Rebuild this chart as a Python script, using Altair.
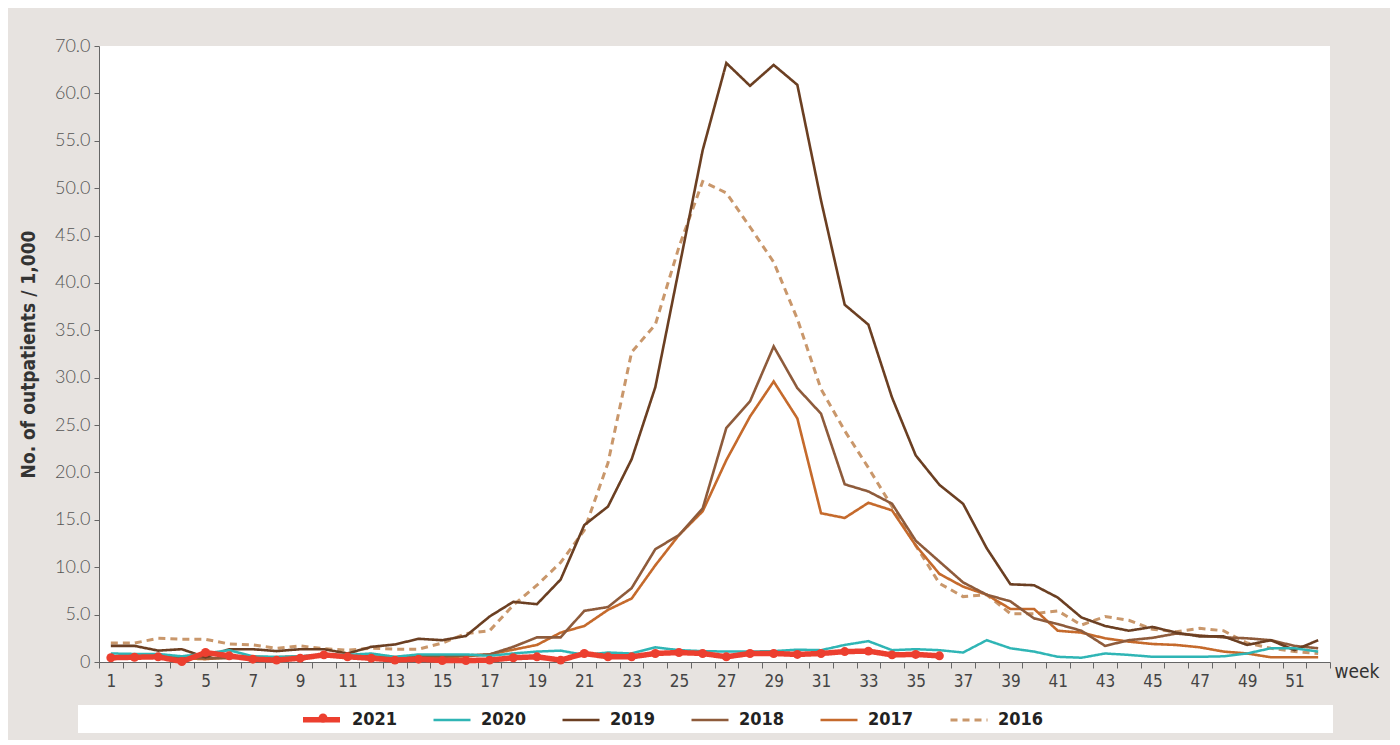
import altair as alt
import pandas as pd

weeks = list(range(1, 53))
years = ["2021", "2020", "2019", "2018", "2017", "2016"]
colors = ["#ec3f2f", "#2fb5b5", "#6b3f22", "#8e5b3b", "#c56a2c", "#c9976b"]

v2016 = [2.0, 2.0, 2.5, 2.4, 2.4, 1.9, 1.8, 1.45, 1.7, 1.4, 1.25, 1.45, 1.35, 1.35, 2.0, 3.0, 3.3, 6.0,
         8.1, 10.5, 13.9, 21.0, 32.7, 35.6, 43.8, 50.7, 49.5, 45.9, 42.2, 36.2, 28.8, 24.4, 20.5, 16.4,
         12.3, 8.3, 6.9, 7.1, 5.1, 5.1, 5.4, 3.9, 4.8, 4.4, 3.45, 3.2, 3.55, 3.3, 2.0, 1.45, 1.1, 0.9]
v2017 = [0.5, 0.5, 0.6, 0.4, 0.3, 0.5, 0.6, 0.4, 0.5, 0.6, 0.5, 0.4, 0.4, 0.5, 0.5, 0.6, 0.8, 1.3,
         1.8, 3.1, 3.8, 5.5, 6.7, 10.2, 13.4, 15.9, 21.3, 25.9, 29.6, 25.7, 15.7, 15.2, 16.8, 16.0,
         12.3, 9.3, 7.95, 7.1, 5.6, 5.6, 3.3, 3.1, 2.5, 2.15, 1.9, 1.8, 1.55, 1.1, 0.9, 0.5, 0.5, 0.5]
v2018 = [0.6, 0.6, 0.7, 0.5, 0.4, 0.4, 0.5, 0.5, 0.6, 0.7, 0.6, 0.6, 0.5, 0.6, 0.6, 0.7, 0.8, 1.6,
         2.6, 2.6, 5.4, 5.8, 7.8, 11.9, 13.4, 16.2, 24.7, 27.5, 33.3, 28.9, 26.2, 18.75, 18.0, 16.7,
         12.8, 10.6, 8.4, 7.1, 6.4, 4.6, 4.0, 3.3, 1.7, 2.3, 2.55, 3.0, 2.8, 2.6, 2.5, 2.3, 1.7, 1.45]
v2019 = [1.7, 1.7, 1.2, 1.35, 0.5, 1.35, 1.35, 1.15, 1.35, 1.35, 0.9, 1.6, 1.85, 2.45, 2.3, 2.75, 4.8,
         6.35, 6.1, 8.7, 14.45, 16.4, 21.4, 29.0, 41.5, 54.0, 63.2, 60.8, 63.0, 60.9, 48.7, 37.7, 35.6,
         27.9, 21.8, 18.7, 16.7, 12.0, 8.2, 8.1, 6.8, 4.7, 3.8, 3.3, 3.7, 3.1, 2.7, 2.7, 1.8, 2.3, 1.25, 2.3]
v2020 = [0.9, 0.85, 0.85, 0.6, 0.9, 1.25, 0.6, 0.55, 0.6, 0.8, 0.75, 0.9, 0.55, 0.8, 0.8, 0.8, 0.65,
         0.9, 1.1, 1.2, 0.75, 1.0, 0.9, 1.55, 1.25, 1.15, 1.1, 1.1, 1.15, 1.3, 1.25, 1.8, 2.2, 1.25,
         1.35, 1.25, 1.0, 2.3, 1.45, 1.1, 0.55, 0.45, 0.9, 0.75, 0.55, 0.55, 0.55, 0.6, 0.9, 1.45, 1.45, 1.1]
v2021 = [0.45, 0.5, 0.55, 0.05, 1.0, 0.65, 0.3, 0.2, 0.4, 0.75, 0.55, 0.4, 0.2, 0.3, 0.15, 0.15, 0.2,
         0.45, 0.55, 0.2, 0.9, 0.55, 0.55, 0.9, 1.0, 0.9, 0.55, 0.9, 0.9, 0.8, 0.9, 1.1, 1.15, 0.75,
         0.8, 0.65]

series = {"2016": v2016, "2017": v2017, "2018": v2018, "2019": v2019, "2020": v2020, "2021": v2021}
rows = []
for yr, vals in series.items():
    for w, v in zip(weeks, vals):
        rows.append({"week": w, "year": yr, "value": v, "dot": yr})
df = pd.DataFrame(rows)
df21 = df[df["year"] == "2021"]

W, H = 1231, 616
NARROW = "Liberation Sans Narrow, DejaVu Sans Condensed, Roboto"
LEG_X, LEG_Y = 201, 652

x_enc = alt.X("week:O", bandPosition=0.5,
              scale=alt.Scale(type="band", paddingInner=0, paddingOuter=0, domain=weeks),
              axis=alt.Axis(title="week", tickBand="extent", labelAngle=0,
                            labelExpr="datum.value % 2 == 1 ? datum.label : ''",
                            labelFont=NARROW, labelFontSize=17, labelColor="#444",
                            labelPadding=5, tickSize=6, tickColor="#666", domainColor="#666",
                            titleFont=NARROW, titleFontSize=19, titleFontWeight="normal",
                            titleColor="#333", titleX=W + 4, titleY=9, titleAlign="left",
                            titleBaseline="middle"))
y_enc = alt.Y("value:Q",
              scale=alt.Scale(domain=[0, 65], nice=False, zero=True),
              axis=alt.Axis(title="No. of outpatients / 1,000", values=list(range(0, 70, 5)),
                            labelExpr="datum.value == 0 ? '0' : (datum.value == 65 ? '70.0' : format(datum.value, '.1f'))",
                            labelFont="Lato", labelFontWeight=300, labelFontSize=18, labelColor="#555",
                            labelPadding=4, tickSize=5, tickColor="#666", domainColor="#666", grid=False,
                            titleFont=NARROW, titleFontSize=19, titleFontWeight="bold", titleColor="#333",
                            titleX=-71, titleY=H / 2, titleBaseline="middle"))

legend = alt.Legend(
    title=None, orient="none", direction="horizontal", legendX=LEG_X, legendY=LEG_Y,
    symbolType="stroke", symbolSize=1369, columnPadding=30,
    labelFont=NARROW, labelFontSize=18, labelFontWeight="bold", labelColor="#222", labelOffset=9,
)

color_enc = alt.Color("year:N", scale=alt.Scale(domain=years, range=colors), legend=legend)
dash_enc = alt.StrokeDash("year:N", scale=alt.Scale(type="ordinal", domain=years,
                                                    range=[[1, 0]] * 5 + [[7, 5]]), legend=legend)
width_enc = alt.StrokeWidth("year:N", scale=alt.Scale(type="ordinal", domain=years,
                                                      range=[5.5, 2.5, 2.6, 2.6, 2.6, 3]), legend=legend)

strip = alt.Chart(pd.DataFrame({"a": [0]})).mark_rect(color="white").encode(
    x=alt.value(-21), x2=alt.value(1234), y=alt.value(659), y2=alt.value(687)
)

lines = alt.Chart(df).mark_line(strokeJoin="miter").encode(
    x=x_enc, y=y_enc, color=color_enc, strokeDash=dash_enc, strokeWidth=width_enc,
    order=alt.Order("year:N", sort="ascending"),
)

dot_legend = alt.Legend(
    title=None, orient="none", legendX=LEG_X + 14, legendY=LEG_Y + 11, symbolType="circle",
    symbolSize=80, symbolFillColor="#ec3f2f", symbolStrokeColor="#ec3f2f", symbolStrokeWidth=0,
    labelExpr="''", labelFontSize=18,
)

points = alt.Chart(df21).mark_point(filled=True, size=80, opacity=1, color="#ec3f2f").encode(
    x=x_enc, y=y_enc,
    shape=alt.Shape("dot:N", scale=alt.Scale(domain=["2021"], range=["circle"]), legend=dot_legend),
)

chart = alt.layer(strip, lines, points).properties(
    width=W, height=H,
    autosize=alt.AutoSizeParams(type="none"),
    padding={"left": 91, "top": 38, "right": 60, "bottom": 78},
    background="#e7e3e0",
).configure_view(fill="white", stroke=None)

chart.save("out.html", embed_options={"renderer": "svg", "actions": False})
